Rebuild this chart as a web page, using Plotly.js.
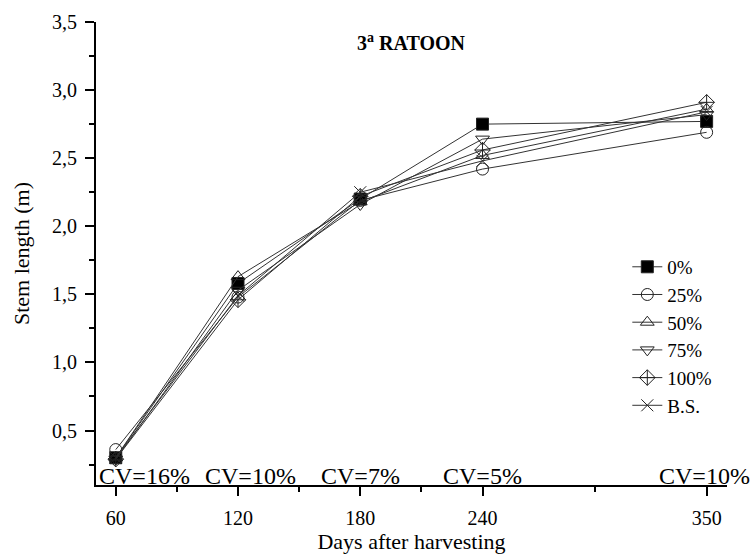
<!DOCTYPE html>
<html>
<head>
<meta charset="utf-8">
<script src="https://cdn.plot.ly/plotly-3.0.1.min.js"></script>
<style>html,body{margin:0;padding:0;background:#fff;}#chart{width:753px;height:554px;}</style>
</head>
<body>
<div id="chart"></div>
<script>
// Data
const days = [60, 120, 180, 240, 350];
const seriesNames = ["0%", "25%", "50%", "75%", "100%", "B.S."];
const s0   = [0.30, 1.58, 2.20, 2.75, 2.77];
const s25  = [0.36, 1.48, 2.19, 2.42, 2.69];
const s50  = [0.30, 1.63, 2.18, 2.52, 2.86];
const s75  = [0.29, 1.53, 2.16, 2.64, 2.82];
const s100 = [0.29, 1.46, 2.22, 2.56, 2.91];
const sBS  = [0.30, 1.49, 2.25, 2.48, 2.84];
const xTickVals = [60, 120, 180, 240, 350];
const xTickText = ["60", "120", "180", "240", "350"];
const xMinorVals = [90, 150, 210, 295];
const yTickVals = [0.5, 1.0, 1.5, 2.0, 2.5, 3.0, 3.5];
const yTickText = ["0,5", "1,0", "1,5", "2,0", "2,5", "3,0", "3,5"];
const yMinorVals = [0.25, 0.75, 1.25, 1.75, 2.25, 2.75, 3.25];
const cvLabels = ["CV=16%", "CV=10%", "CV=7%", "CV=5%", "CV=10%"];
const cvX = [74, 126, 180, 240, 349];

const allSeries = [s0, s25, s50, s75, s100, sBS];
const symbols = ["square", "circle-open", "triangle-up-open", "triangle-down-open", "diamond-cross-open", "x-thin-open"];

const FONT = "Liberation Serif, Times New Roman, serif";

const traces = allSeries.map((ys, i) => ({
  x: days, y: ys, name: seriesNames[i], type: "scatter", mode: "lines+markers",
  line: {color: "#333", width: 1},
  marker: {symbol: symbols[i], size: 12, color: (i === 0 ? "#000" : "#222"),
           line: {color: "#222", width: 1}}
}));

const annotations = cvLabels.map((t, i) => ({
  text: t, x: cvX[i], y: 0, xref: "x", yref: "paper", xanchor: "center", yanchor: "bottom",
  yshift: -6, showarrow: false, font: {family: FONT, size: 24, color: "#000"}
}));
annotations.push({
  text: "<b>3<sup>a</sup> RATOON</b>", x: 0.499, y: 0.957, xref: "paper", yref: "paper",
  xanchor: "center", yanchor: "middle", showarrow: false, font: {family: FONT, size: 20, color: "#000"}
});

const layout = {
  width: 753, height: 554,
  margin: {l: 96, r: 26, t: 22, b: 69},
  paper_bgcolor: "#fff", plot_bgcolor: "#fff",
  font: {family: FONT, color: "#000", size: 20},
  showlegend: true,
  legend: {x: 0.842, y: 0.512, xanchor: "left", yanchor: "top", bgcolor: "rgba(0,0,0,0)",
           font: {family: FONT, size: 19, color: "#000"}, tracegroupgap: 0},
  xaxis: {
    range: [50.3, 360], showgrid: false, zeroline: false, showline: true, linecolor: "#000", linewidth: 2,
    ticks: "outside", ticklen: 9, tickwidth: 2, tickcolor: "#000",
    tickmode: "array", tickvals: xTickVals, ticktext: xTickText,
    tickfont: {family: FONT, size: 20}, ticklabelstandoff: 5,
    minor: {tickvals: xMinorVals, ticks: "outside", ticklen: 5, tickwidth: 2, tickcolor: "#000", showgrid: false},
    title: {text: "Days after harvesting", font: {family: FONT, size: 22}, standoff: 2}
  },
  yaxis: {
    range: [0.1, 3.5], showgrid: false, zeroline: false, showline: true, linecolor: "#000", linewidth: 2,
    ticks: "outside", ticklen: 9, tickwidth: 2, tickcolor: "#000",
    tickmode: "array", tickvals: yTickVals, ticktext: yTickText,
    tickfont: {family: FONT, size: 20}, ticklabelstandoff: 4,
    minor: {tickvals: yMinorVals, ticks: "outside", ticklen: 5, tickwidth: 2, tickcolor: "#000", showgrid: false},
    title: {text: "Stem length (m)", font: {family: FONT, size: 22}, standoff: 16}
  },
  annotations: annotations
};

Plotly.newPlot("chart", traces, layout, {displayModeBar: false, staticPlot: true});
</script>
</body>
</html>
